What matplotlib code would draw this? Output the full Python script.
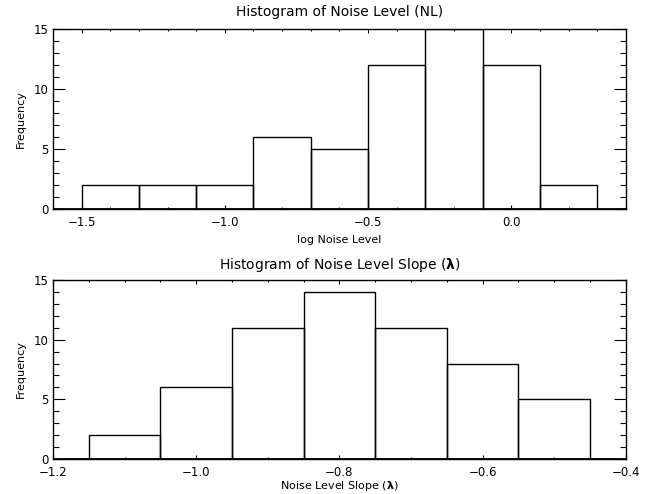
"""Two IDL-style outline histograms: noise level and noise level slope."""

import numpy as np
from matplotlib import pyplot as plt
from matplotlib.ticker import FuncFormatter, MultipleLocator

# Histogram of log noise level (NL)
nl_edges = [-1.5, -1.3, -1.1, -0.9, -0.7, -0.5, -0.3, -0.1, 0.1, 0.3]
nl_counts = [2, 2, 2, 6, 5, 12, 15, 12, 2]

# Histogram of noise level slope (lambda)
slope_edges = [-1.15, -1.05, -0.95, -0.85, -0.75, -0.65, -0.55, -0.45]
slope_counts = [2, 6, 11, 14, 11, 8, 5]

plt.rcParams["font.family"] = "DejaVu Sans"
plt.rcParams["mathtext.fontset"] = "dejavusans"

fig = plt.figure(figsize=(6.51, 4.94), dpi=100)
ax_top = fig.add_axes([0.0814, 0.5769, 0.880, 0.3644])
ax_bot = fig.add_axes([0.0814, 0.0709, 0.880, 0.3623])

minus_fmt = FuncFormatter(lambda v, _: f"{v:.1f}".replace("-", "\u2212"))


def draw_hist(ax, edges, counts, xlim, xmajor, xminor):
    edges = np.asarray(edges, dtype=float)
    ax.bar(edges[:-1], counts, width=np.diff(edges), align="edge",
           fill=False, edgecolor="black", linewidth=1.0)
    ax.axhline(0, color="black", linewidth=2.0)
    ax.set_xlim(*xlim)
    ax.set_ylim(0, 15)
    ax.xaxis.set_major_locator(MultipleLocator(xmajor))
    ax.xaxis.set_minor_locator(MultipleLocator(xminor))
    ax.xaxis.set_major_formatter(minus_fmt)
    ax.yaxis.set_major_locator(MultipleLocator(5))
    ax.yaxis.set_minor_locator(MultipleLocator(1))
    ax.tick_params(axis="both", which="both", direction="in",
                   top=True, right=True, labelsize=8.5, color="black")
    ax.tick_params(axis="x", which="major", length=2.6, width=0.8, pad=5)
    ax.tick_params(axis="x", which="minor", length=1.3, width=0.8)
    ax.tick_params(axis="y", which="major", length=8.4, width=0.8, pad=3)
    ax.tick_params(axis="y", which="minor", length=4.2, width=0.8)
    for spine in ax.spines.values():
        spine.set_linewidth(1.0)
    ax.set_ylabel("Frequency", fontsize=8, labelpad=6)


draw_hist(ax_top, nl_edges, nl_counts, (-1.6, 0.4), 0.5, 0.1)
ax_top.set_xticks([-1.5, -1.0, -0.5, 0.0])
ax_top.set_title("Histogram of Noise Level (NL)", fontsize=10, pad=9)
ax_top.set_xlabel("log Noise Level", fontsize=8, labelpad=4)

draw_hist(ax_bot, slope_edges, slope_counts, (-1.2, -0.4), 0.2, 0.05)
ax_bot.set_title(r"Histogram of Noise Level Slope ($\mathbf{\lambda}$)",
                 fontsize=10, pad=8)
ax_bot.set_xlabel(r"Noise Level Slope ($\mathbf{\lambda}$)", fontsize=8,
                  labelpad=0)

fig.savefig("out.png", dpi=100)
